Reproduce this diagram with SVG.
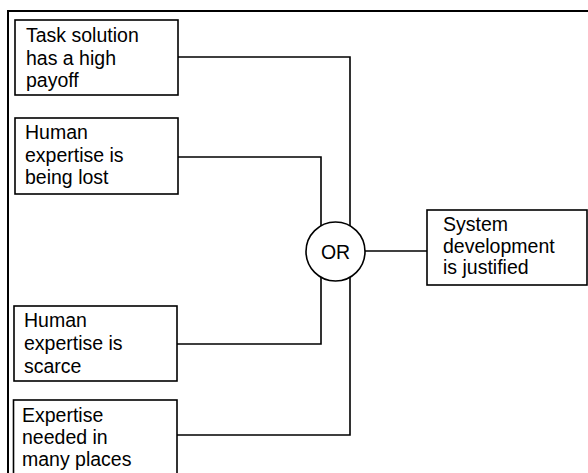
<svg xmlns="http://www.w3.org/2000/svg" width="588" height="473" viewBox="0 0 588 473">
  <style>
    .box { fill: #ffffff; stroke: #000000; stroke-width: 1.6; }
    .wire { fill: none; stroke: #000000; stroke-width: 1.6; }
    .frame { fill: none; stroke: #000000; stroke-width: 2; }
    text { font-family: "Liberation Sans", Arial, sans-serif; font-size: 19.5px; fill: #000000; }
  </style>
  <rect width="588" height="473" fill="#ffffff"/>

  <!-- outer frame: top and left edges -->
  <path class="frame" d="M8 473 V11 H588"/>

  <!-- connectors into the OR gate and out to the conclusion -->
  <g id="connectors">
    <path class="wire" d="M178 57 H350 V251"/>
    <path class="wire" d="M178 157 H321 V251"/>
    <path class="wire" d="M177 344 H321 V251"/>
    <path class="wire" d="M177 435 H350 V251"/>
    <path class="wire" d="M365 251 H427"/>
  </g>

  <g id="payoff">
    <rect class="box" x="15" y="20" width="163" height="75"/>
    <text x="26" y="42">Task solution</text>
    <text x="26" y="64.5">has a high</text>
    <text x="26" y="87">payoff</text>
  </g>

  <g id="lost">
    <rect class="box" x="15" y="118" width="163" height="76"/>
    <text x="25" y="139">Human</text>
    <text x="25" y="161.5">expertise is</text>
    <text x="25" y="184">being lost</text>
  </g>

  <g id="scarce">
    <rect class="box" x="14" y="306" width="163" height="75"/>
    <text x="24" y="327">Human</text>
    <text x="24" y="350">expertise is</text>
    <text x="24" y="372.5">scarce</text>
  </g>

  <g id="places">
    <rect class="box" x="13.5" y="400" width="163.5" height="80"/>
    <text x="22" y="422">Expertise</text>
    <text x="22" y="444">needed in</text>
    <text x="22" y="466">many places</text>
  </g>

  <g id="or-gate">
    <circle class="box" cx="335.5" cy="251.5" r="29.5"/>
    <text x="335.5" y="258.5" text-anchor="middle">OR</text>
  </g>

  <g id="justified">
    <rect class="box" x="427" y="210" width="160" height="75"/>
    <text x="443" y="231">System</text>
    <text x="443" y="252.5">development</text>
    <text x="443" y="274">is justified</text>
  </g>
</svg>
